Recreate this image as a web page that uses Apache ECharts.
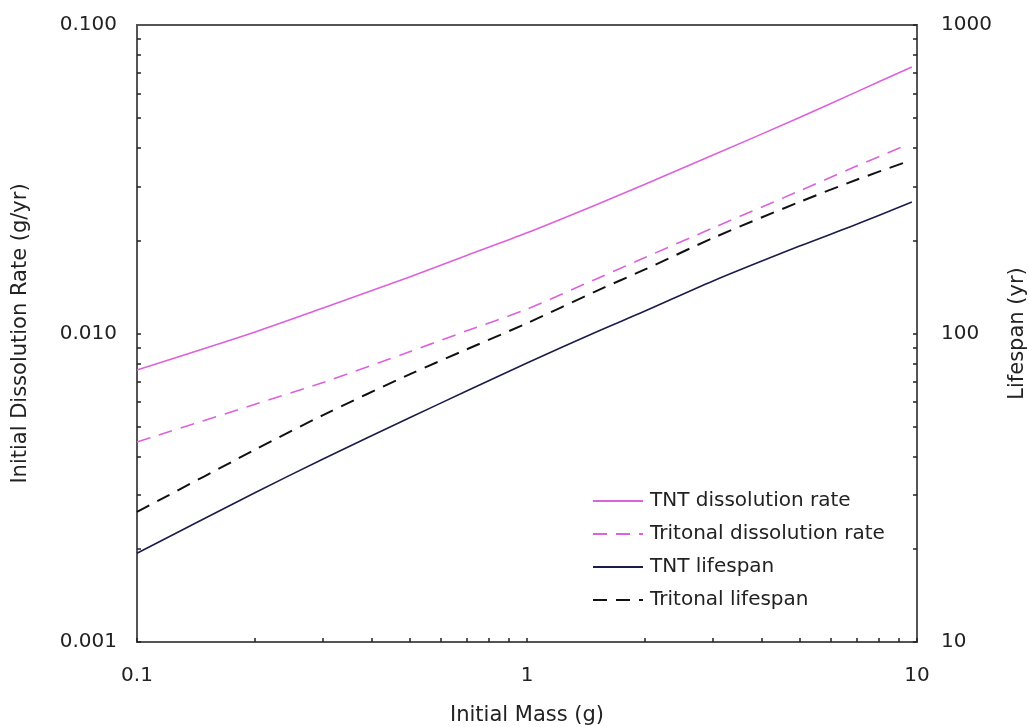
<!DOCTYPE html>
<html><head><meta charset="utf-8">
<script src="https://cdn.jsdelivr.net/npm/echarts@6/dist/echarts.min.js"></script>
<style>html,body{margin:0;padding:0;background:#fff}#c{width:1029px;height:727px}</style>
</head><body><div id="c"></div>
<script>
var massTNT = [0.1, 0.2, 0.3, 0.5, 0.7, 1, 1.5, 2, 3, 5, 7, 9.7];
var massTritonal = [0.1, 0.2, 0.3, 0.5, 0.7, 1, 1.5, 2, 3, 5, 7, 9.4];
var tntRate = [0.00762, 0.0101, 0.0121, 0.01525, 0.0179, 0.0212, 0.0261, 0.0304, 0.0379, 0.0501, 0.0607, 0.0731];
var tritonalRate = [0.00445, 0.00589, 0.00694, 0.00873, 0.0102, 0.0120, 0.0150, 0.0176, 0.0220, 0.0290, 0.0349, 0.0408];
var tntLife = [19.4, 30.4, 39.2, 53.3, 65.1, 80.2, 101, 118, 148, 192, 226, 267];
var tritonalLife = [26.4, 41.9, 54.4, 73.7, 88.8, 108, 137, 161, 204, 267, 315, 360];
var xTicks = [0.1,0.2,0.3,0.4,0.5,0.6,0.7,0.8,0.9,1,2,3,4,5,6,7,8,9,10];
var yLeftTicks = [0.001,0.002,0.003,0.004,0.005,0.006,0.007,0.008,0.009,0.01,0.02,0.03,0.04,0.05,0.06,0.07,0.08,0.09,0.1];
var yRightTicks = [10,20,30,40,50,60,70,80,90,100,200,300,400,500,600,700,800,900,1000];
var seriesNames = ['TNT dissolution rate', 'Tritonal dissolution rate', 'TNT lifespan', 'Tritonal lifespan'];

function pairs(xs, ys){ return xs.map(function(x,i){ return [x, ys[i]]; }); }
var FONT = 'DejaVu Sans';
var txt = {color:'#222', fontFamily: FONT, fontSize: 20};
var nameTxt = {color:'#222', fontFamily: FONT, fontSize: 21};
var chart = echarts.init(document.getElementById('c'), null, {renderer:'canvas'});
chart.setOption({
  animation:false,
  backgroundColor:'#fff',
  grid:{left:137, right:112, top:25, bottom:85, outerBoundsMode:'none', containLabel:false,
        show:true, borderColor:'#555', borderWidth:2, backgroundColor:'transparent'},
  legend:{
    orient:'vertical', left:592, top:490, padding:0, itemWidth:50, itemHeight:14, itemGap:11,
    itemStyle:{opacity:0},
    textStyle:{color:'#222', fontFamily:FONT, fontSize:20, lineHeight:22, padding:[0,0,0,2]},
    data: seriesNames
  },
  xAxis:{
    type:'log', logBase:10, min:0.1, max:10,
    name:'Initial Mass (g)', nameLocation:'middle', nameGap:63,
    nameTextStyle:nameTxt,
    axisLine:{show:true, lineStyle:{color:'#555', width:2}},
    axisTick:{show:true, inside:true, length:4, customValues:xTicks, lineStyle:{color:'#222', width:1.5}},
    axisLabel:Object.assign({margin:24, formatter:function(v){return String(v);}}, txt),
    splitLine:{show:false}, minorTick:{show:false}
  },
  yAxis:[{
    type:'log', logBase:10, min:0.001, max:0.1, position:'left',
    name:'Initial Dissolution Rate (g/yr)', nameLocation:'middle', nameGap:106, nameRotate:90,
    nameTextStyle:nameTxt,
    axisLine:{show:true, lineStyle:{color:'#555', width:2}},
    axisTick:{show:true, inside:true, length:4, customValues:yLeftTicks, lineStyle:{color:'#222', width:1.5}},
    axisLabel:Object.assign({margin:20, formatter:function(v){return v.toFixed(3);}}, txt),
    splitLine:{show:false}
  },{
    type:'log', logBase:10, min:10, max:1000, position:'right',
    name:'Lifespan (yr)', nameLocation:'middle', nameGap:90, nameRotate:90,
    nameTextStyle:nameTxt,
    axisLine:{show:true, lineStyle:{color:'#555', width:2}},
    axisTick:{show:true, inside:true, length:4, customValues:yRightTicks, lineStyle:{color:'#222', width:1.5}},
    axisLabel:Object.assign({margin:24, formatter:function(v){return String(Math.round(v));}}, txt),
    splitLine:{show:false}
  }],
  series:[
    {name:seriesNames[0], type:'line', yAxisIndex:0, data:pairs(massTNT, tntRate), symbol:'none', smooth:0.3,
     lineStyle:{color:'#dc62dc', width:1.6, type:'solid'}, itemStyle:{color:'#dc62dc'}},
    {name:seriesNames[1], type:'line', yAxisIndex:0, data:pairs(massTritonal, tritonalRate), symbol:'none', smooth:0.3,
     lineStyle:{color:'#dc62dc', width:1.6, type:[14,9]}, itemStyle:{color:'#dc62dc'}},
    {name:seriesNames[2], type:'line', yAxisIndex:1, data:pairs(massTNT, tntLife), symbol:'none', smooth:0.3,
     lineStyle:{color:'#1c1c4a', width:1.6, type:'solid'}, itemStyle:{color:'#1c1c4a'}},
    {name:seriesNames[3], type:'line', yAxisIndex:1, data:pairs(massTritonal, tritonalLife), symbol:'none', smooth:0.3,
     lineStyle:{color:'#111', width:2, type:[14,9]}, itemStyle:{color:'#111'}}
  ]
});
</script></body></html>
